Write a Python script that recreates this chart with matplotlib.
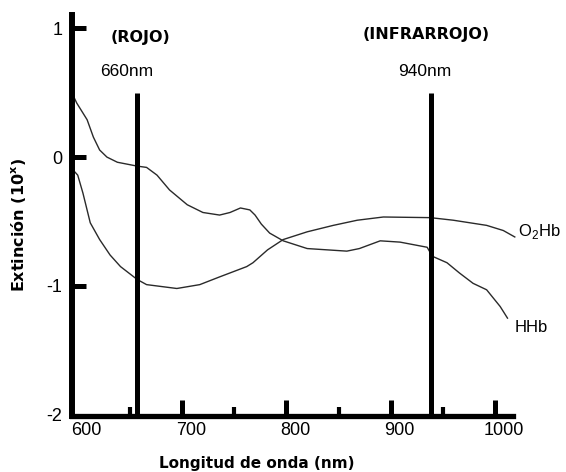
import matplotlib
matplotlib.use("Agg")
import matplotlib.pyplot as plt
from matplotlib.transforms import ScaledTranslation

plt.rcParams['font.family'] = ['Liberation Sans', 'DejaVu Sans']
plt.rcParams['mathtext.fontset'] = 'custom'
plt.rcParams['mathtext.rm'] = 'Liberation Sans'
plt.rcParams['mathtext.bf'] = 'DejaVu Sans:bold'

# curvas (longitud de onda nm, log10 extincion)
hhb_x = [595.5, 599, 609, 615, 621, 628, 638, 657, 666, 676, 688, 705, 720, 736,
         746, 756, 765, 770, 776, 784, 797, 820, 858, 870, 890, 909, 935, 940,
         954, 966, 979, 992, 1005, 1012]
hhb_y = [0.48, 0.42, 0.29, 0.155, 0.055, 0.0, -0.04, -0.07, -0.08, -0.14, -0.255,
         -0.37, -0.43, -0.45, -0.43, -0.395, -0.41, -0.45, -0.52, -0.59, -0.65,
         -0.71, -0.73, -0.71, -0.65, -0.66, -0.70, -0.77, -0.82, -0.90, -0.98,
         -1.03, -1.16, -1.25]

o2hb_x = [595.5, 600, 605, 612, 621, 631, 641, 657, 666, 695, 717, 736, 762, 768,
          782, 797, 820, 845, 868, 893, 938, 960, 992, 1008, 1019]
o2hb_y = [-0.10, -0.14, -0.28, -0.51, -0.64, -0.76, -0.85, -0.95, -0.99, -1.02,
          -0.99, -0.93, -0.85, -0.82, -0.72, -0.64, -0.58, -0.53, -0.49, -0.465,
          -0.47, -0.49, -0.53, -0.57, -0.62]

lambdas = [657, 939]          # lineas de los LED
lambda_top = 0.5
lambda_labels = ['660nm', '940nm']
band_labels = ['(ROJO)', '(INFRARROJO)']

xticks = [600, 700, 800, 900, 1000]
xminor = [650, 750, 850, 950]
yticks = [1, 0, -1, -2]
ytick_labels = ['1', '0', '-1', '-2']

fig = plt.figure(figsize=(5.66, 4.72), dpi=100)
ax = fig.add_axes([0.1272, 0.1186, 0.779, 0.8496])

ax.plot(hhb_x, hhb_y, color='#2a2a2a', lw=1.0, clip_on=False)
ax.plot(o2hb_x, o2hb_y, color='#2a2a2a', lw=1.0, clip_on=False)

for xl in lambdas:
    ax.plot([xl, xl], [-2.01, lambda_top], color='black', lw=3.6,
            solid_capstyle='butt')

ax.set_xlim(594.5, 1017.2)
ax.set_ylim(-2.01, 1.103)

for s in ['top', 'right']:
    ax.spines[s].set_visible(False)
ax.spines['left'].set_linewidth(4.3)
ax.spines['bottom'].set_linewidth(3.8)

ax.set_xticks(xticks)
ax.set_xticklabels([str(t) for t in xticks])
ax.set_xticks(xminor, minor=True)
ax.set_yticks(yticks)
ax.set_yticklabels(ytick_labels)

ax.tick_params(axis='x', which='major', direction='in', length=11.5, width=3.6,
               labelsize=13, pad=4)
ax.tick_params(axis='x', which='minor', direction='in', length=6.5, width=3.0)
ax.tick_params(axis='y', which='major', direction='in', length=10, width=3.0,
               labelsize=13, pad=7, left=False, right=False)
ax.xaxis.get_major_ticks()[0].tick1line.set_visible(False)

# marcas del eje y hacia la derecha
for yt in yticks[:-1]:
    ax.plot([594.5, 594.5 + 13.5], [yt, yt], color='black', lw=3.6,
            solid_capstyle='butt')

off = ScaledTranslation(9 / 100, 0, fig.dpi_scale_trans)
for lab in ax.get_xticklabels():
    lab.set_transform(lab.get_transform() + off)

ax.set_xlabel('Longitud de onda (nm)', fontsize=11, fontweight='bold',
              family='DejaVu Sans', labelpad=12.5, x=0.418)
ax.set_ylabel(r'Extinción (10$^{\mathbf{x}}$)', fontsize=11.5, fontweight='bold',
              family='DejaVu Sans', labelpad=13, y=0.476)

ax.text(659.7, 0.932, band_labels[0], ha='center', va='center', fontsize=11.5,
        fontweight='bold', family='DejaVu Sans')
ax.text(933.8, 0.948, band_labels[1], ha='center', va='center', fontsize=11.5,
        fontweight='bold', family='DejaVu Sans')
ax.text(647, 0.668, lambda_labels[0], ha='center', va='center', fontsize=12.5)
ax.text(933, 0.661, lambda_labels[1], ha='center', va='center', fontsize=12.5)

ax.text(1022, -0.574, r'O$_2$Hb', ha='left', va='center', fontsize=12)
ax.text(1019, -1.32, 'HHb', ha='left', va='center', fontsize=12)

fig.savefig('out.png', dpi=100)
